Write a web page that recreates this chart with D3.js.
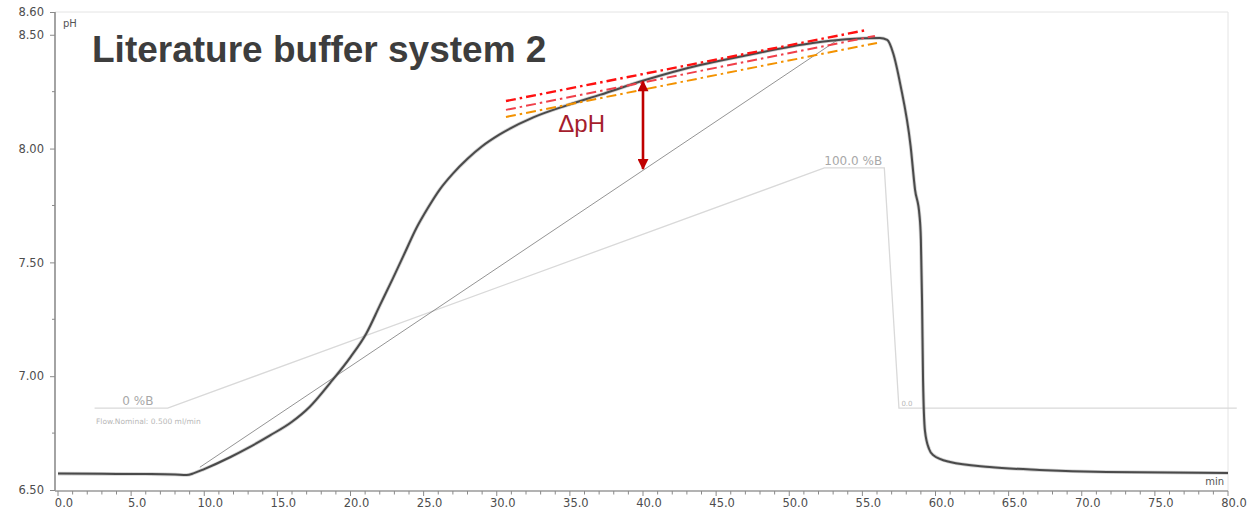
<!DOCTYPE html>
<html>
<head>
<meta charset="utf-8">
<script src="https://cdn.jsdelivr.net/npm/d3@7/dist/d3.min.js"></script>
<style>
  html, body { margin: 0; padding: 0; background: #fff; }
  svg { display: block; }
  .tick text { font-family: "DejaVu Sans", sans-serif; }
</style>
</head>
<body>
<svg id="chart" width="1247" height="512"></svg>
<script>
// pH trace of the gradient run (time in min, pH)
const curveTime = [0, 3, 6, 8.0, 8.8, 9.3, 10.0, 11.8, 13.0, 14.5, 16.0, 17.2, 18.6, 20.0, 21.1, 22.0, 22.9, 23.7, 24.5, 25.3, 26.1, 27.0, 28.0, 29.0, 30.2, 32.5, 34.8, 37.1, 40.1, 43.9, 47.1, 51.6, 53.9, 56.2, 56.7, 57.1, 57.6, 58.3, 58.6, 58.9, 59.0, 59.08, 59.15, 59.28, 59.56, 59.83, 61.0, 63.7, 67.1, 71.7, 80.0];
const curvePH   = [6.572, 6.571, 6.570, 6.568, 6.566, 6.574, 6.592, 6.645, 6.685, 6.74, 6.80, 6.865, 6.97, 7.084, 7.19, 7.31, 7.43, 7.54, 7.65, 7.74, 7.82, 7.89, 7.955, 8.01, 8.062, 8.137, 8.19, 8.237, 8.30, 8.367, 8.41, 8.464, 8.48, 8.486, 8.477, 8.42, 8.28, 8.01, 7.82, 7.71, 7.6, 7.33, 6.98, 6.76, 6.68, 6.654, 6.623, 6.601, 6.588, 6.579, 6.575];

// programmed gradient (%B)
const gradTime = [2.5, 7.5, 52.4, 56.5, 57.5, 80.6];
const gradB    = [0, 0, 100, 100, 0, 0];

// ideal linear pH gradient reference line
const refTime = [9.7, 53.3];
const refPH   = [6.60, 8.477];

// tangent lines on the plateau region
const tangentNames = ["tangent A", "tangent B", "tangent C"];
const tangentTime  = [[30.63, 55.3], [30.63, 55.86], [30.63, 56.0]];
const tangentPH    = [[8.209, 8.521], [8.170, 8.495], [8.139, 8.464]];
const tangentColor = ["#ff1010", "#f0404a", "#f39200"];

// deviation arrow
const deltaTime = 40;
const deltaPH   = [7.906, 8.30];

// axis ticks
const xMajor = d3.range(0, 80.01, 5);
const xMinor = d3.range(0, 80.01, 1);
const yMajor = [6.5, 7.0, 7.5, 8.0, 8.5, 8.6];
const yMinor = [6.75, 7.25, 7.75, 8.25];

const svg = d3.select("#chart");
const plotLeft = 55, plotRight = 1228, plotTop = 12, plotBottom = 490;

const x = d3.scaleLinear().domain([0, 80]).range([58, plotRight]);
const y = d3.scaleLinear().domain([6.5, 8.6]).range([plotBottom, plotTop]);
const yB = d3.scaleLinear().domain([0, 100]).range([y(6.86), y(7.915)]);

// plot frame (top and right)
svg.append("path")
  .attr("d", `M${plotLeft},${plotTop}H${plotRight}V${plotBottom + 1}`)
  .attr("fill", "none").attr("stroke", "#e4e4e4").attr("stroke-width", 1);

// gradient trace
const gradData = gradTime.map((t, i) => [t, gradB[i]]);
svg.append("path")
  .datum(gradData)
  .attr("d", d3.line().x(d => x(d[0])).y(d => yB(d[1])))
  .attr("fill", "none").attr("stroke", "#d9d9d9").attr("stroke-width", 1.3);

svg.append("text").text("0 %B")
  .attr("x", x(4.4)).attr("y", yB(0) - 3)
  .attr("font-family", "DejaVu Sans, sans-serif").attr("font-size", 12)
  .attr("fill", "#a8a8a8");
svg.append("text").text("Flow.Nominal: 0.500 ml/min")
  .attr("x", x(2.6)).attr("y", yB(0) + 16)
  .attr("font-family", "DejaVu Sans, sans-serif").attr("font-size", 7.5)
  .attr("fill", "#b8b8b8");
svg.append("text").text("100.0 %B")
  .attr("x", x(52.4)).attr("y", yB(100) - 3)
  .attr("font-family", "DejaVu Sans, sans-serif").attr("font-size", 12)
  .attr("fill", "#a8a8a8");
svg.append("text").text("0.0")
  .attr("x", x(57.6) + 1).attr("y", yB(0) - 2)
  .attr("font-family", "DejaVu Sans, sans-serif").attr("font-size", 7)
  .attr("fill", "#b8b8b8");

// reference line
svg.append("line")
  .attr("x1", x(refTime[0])).attr("y1", y(refPH[0]))
  .attr("x2", x(refTime[1])).attr("y2", y(refPH[1]))
  .attr("stroke", "#666").attr("stroke-width", 0.7);

// pH trace
const curveData = curveTime.map((t, i) => [t, curvePH[i]]);
const phLine = d3.line().x(d => x(d[0])).y(d => y(d[1])).curve(d3.curveMonotoneX);
svg.append("path").datum(curveData).attr("d", phLine)
  .attr("fill", "none").attr("stroke", "#9a9a9a").attr("stroke-width", 3.6)
  .attr("stroke-opacity", 0.45).attr("stroke-linejoin", "round");
svg.append("path").datum(curveData).attr("d", phLine)
  .attr("fill", "none").attr("stroke", "#4a4a4a").attr("stroke-width", 2)
  .attr("stroke-linejoin", "round");

// tangents
tangentNames.forEach((name, i) => {
  svg.append("line")
    .attr("class", name.replace(" ", "-"))
    .attr("x1", x(tangentTime[i][0])).attr("y1", y(tangentPH[i][0]))
    .attr("x2", x(tangentTime[i][1])).attr("y2", y(tangentPH[i][1]))
    .attr("stroke", tangentColor[i]).attr("stroke-width", i === 0 ? 2.4 : 2)
    .attr("stroke-dasharray", "10,4,2.5,4");
});

// ΔpH arrow
const defs = svg.append("defs");
defs.append("marker").attr("id", "head")
  .attr("viewBox", "0 0 10 10").attr("refX", 9).attr("refY", 5)
  .attr("markerUnits", "userSpaceOnUse")
  .attr("markerWidth", 22).attr("markerHeight", 11)
  .attr("orient", "auto-start-reverse")
  .append("path").attr("d", "M0,0L10,5L0,10Z").attr("fill", "#c00000");
const ax = x(deltaTime);
svg.append("line")
  .attr("x1", ax).attr("y1", y(deltaPH[0]) - 1)
  .attr("x2", ax).attr("y2", y(deltaPH[1]) + 1)
  .attr("stroke", "#c00000").attr("stroke-width", 2.6)
  .attr("marker-start", "url(#head)").attr("marker-end", "url(#head)");
svg.append("text").text("\u0394pH")
  .attr("x", ax - 38).attr("y", 132)
  .attr("text-anchor", "end")
  .attr("font-family", "Liberation Sans, Arial, sans-serif").attr("font-size", 24)
  .attr("fill", "#a51d2d");

// title
svg.append("text").text("Literature buffer system 2")
  .attr("x", 92).attr("y", 62)
  .attr("font-family", "Liberation Sans, Arial, sans-serif")
  .attr("font-weight", "bold").attr("font-size", 37)
  .attr("fill", "#3d3d3d");

// x axis
const xAxis = svg.append("g").attr("transform", `translate(0,${plotBottom + 1})`);
xAxis.append("line").attr("x1", plotLeft).attr("x2", plotRight)
  .attr("stroke", "#9a9a9a").attr("stroke-width", 1.6);
xAxis.selectAll("line.minor").data(xMinor).enter().append("line")
  .attr("class", "minor")
  .attr("x1", d => x(d)).attr("x2", d => x(d))
  .attr("y1", 0).attr("y2", d => (d % 5 === 0 ? 5 : 3.5))
  .attr("stroke", "#8a8a8a").attr("stroke-width", 1);
const gx = xAxis.append("g")
  .call(d3.axisBottom(x).tickValues(xMajor).tickFormat(d3.format(".1f")).tickSize(0).tickPadding(8));
gx.select(".domain").remove();
gx.selectAll("text").attr("font-size", 11.5).attr("fill", "#4d4d4d").attr("dx", 5.5);

svg.append("text").text("min")
  .attr("x", plotRight - 4).attr("y", plotBottom - 5)
  .attr("text-anchor", "end")
  .attr("font-family", "DejaVu Sans, sans-serif").attr("font-size", 10)
  .attr("fill", "#555");

// y axis
const yAxis = svg.append("g").attr("transform", `translate(${plotLeft},0)`);
yAxis.append("line").attr("y1", plotTop).attr("y2", plotBottom + 1)
  .attr("stroke", "#9a9a9a").attr("stroke-width", 1.8);
yAxis.selectAll("line.minor").data(yMinor).enter().append("line")
  .attr("class", "minor")
  .attr("x1", 0).attr("x2", -3)
  .attr("y1", d => y(d)).attr("y2", d => y(d))
  .attr("stroke", "#8a8a8a").attr("stroke-width", 1);
const gy = yAxis.append("g")
  .call(d3.axisLeft(y).tickValues(yMajor).tickFormat(d3.format(".2f")).tickSize(5).tickPadding(6));
gy.select(".domain").remove();
gy.selectAll(".tick line").attr("stroke", "#8a8a8a");
gy.selectAll("text").attr("font-size", 11.5).attr("fill", "#4d4d4d");

svg.append("text").text("pH")
  .attr("x", 63).attr("y", 27)
  .attr("font-family", "DejaVu Sans, sans-serif").attr("font-size", 10)
  .attr("fill", "#555");
</script>
</body>
</html>
